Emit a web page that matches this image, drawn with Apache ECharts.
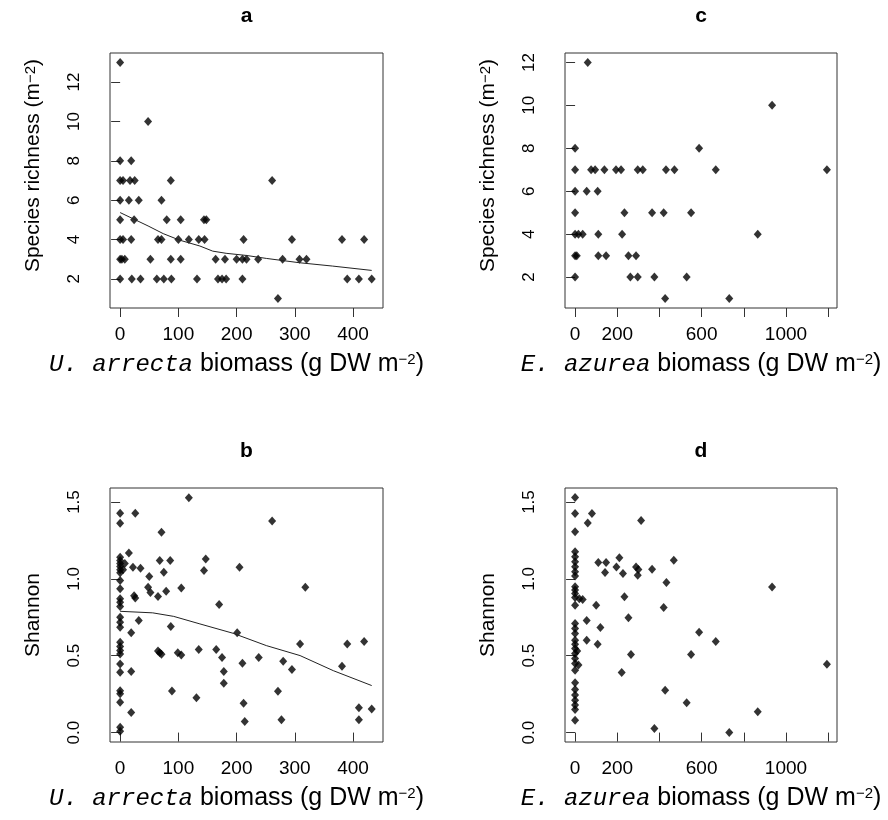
<!DOCTYPE html>
<html>
<head>
<meta charset="utf-8">
<script src="https://cdn.jsdelivr.net/npm/echarts@6/dist/echarts.min.js"></script>
<style>
  html, body { margin: 0; padding: 0; background: #fff; }
  #chart { width: 888px; height: 820px; }
</style>
</head>
<body>
<div id="chart"></div>
<script>
// Panel a: U. arrecta biomass (g DW m-2) vs species richness (m-2)
const arrectaRichness = [
  [0, 13], [48, 10], [0, 8], [19, 8],
  [0, 7], [5, 7], [17, 7], [25, 7], [87, 7], [261, 7],
  [0, 6], [15, 6], [32, 6], [71, 6],
  [0, 5], [24, 5], [80, 5], [104, 5], [144, 5], [148, 5],
  [0, 4], [5, 4], [19, 4], [65, 4], [71, 4], [100, 4], [118, 4], [135, 4], [145, 4],
  [212, 4], [295, 4], [381, 4], [419, 4],
  [0, 3], [3, 3], [8, 3], [52, 3], [87, 3], [104, 3], [164, 3], [180, 3], [200, 3],
  [210, 3], [217, 3], [237, 3], [279, 3], [308, 3], [320, 3],
  [0, 2], [20, 2], [35, 2], [63, 2], [75, 2], [88, 2], [132, 2], [168, 2], [175, 2],
  [182, 2], [210, 2], [390, 2], [410, 2], [432, 2],
  [271, 1]
];
// fitted curve for panel a
const arrectaRichnessFit = [
  [0, 5.37], [24, 5.03], [48, 4.69], [74, 4.30], [102, 3.97], [137, 3.67], [159, 3.41],
  [182, 3.30], [217, 3.19], [251, 3.04], [308, 2.82], [365, 2.65], [432, 2.43]
];

// Panel b: U. arrecta biomass vs Shannon diversity
const arrectaShannon = [
  [0, 1.427], [0, 1.362], [0, 1.141], [0, 1.12], [0, 1.10], [0, 1.08], [0, 1.06], [0, 1.04],
  [0, 0.989], [0, 0.935], [0, 0.870], [0, 0.848], [0, 0.820], [0, 0.750], [0, 0.718],
  [0, 0.685], [0, 0.588], [0, 0.560], [0, 0.534], [0, 0.512], [0, 0.447], [0, 0.392],
  [0, 0.273], [0, 0.252], [0, 0.197], [0, 0.035], [0, 0.008], [8, 1.10], [5, 1.06],
  [118, 1.527], [26, 1.427], [261, 1.377], [71, 1.303], [15, 1.169], [22, 1.076], [35, 1.069],
  [68, 1.12], [86, 1.12], [147, 1.13], [144, 1.054], [75, 1.043], [205, 1.076], [50, 1.015],
  [48, 0.945], [105, 0.941], [318, 0.945], [52, 0.912], [24, 0.89], [26, 0.875], [79, 0.92],
  [65, 0.885], [170, 0.833], [32, 0.729], [87, 0.690], [19, 0.650], [201, 0.649], [309, 0.577],
  [390, 0.577], [419, 0.592], [65, 0.53], [68, 0.52], [71, 0.51], [99, 0.52], [105, 0.505],
  [135, 0.540], [165, 0.540], [175, 0.488], [238, 0.488], [280, 0.464], [295, 0.410],
  [381, 0.431], [210, 0.451], [19, 0.397], [178, 0.397], [178, 0.321], [89, 0.27], [131, 0.226],
  [271, 0.269], [212, 0.191], [19, 0.130], [410, 0.161], [432, 0.154], [214, 0.072],
  [277, 0.083], [410, 0.083]
];
// fitted curve for panel b
const arrectaShannonFit = [
  [0, 0.789], [56, 0.779], [92, 0.756], [137, 0.707], [194, 0.646], [251, 0.566],
  [309, 0.501], [366, 0.403], [432, 0.306]
];

// Panel c: E. azurea biomass vs species richness
const azureaRichness = [
  [60, 12], [934, 10], [0, 8], [588, 8],
  [0, 7], [76, 7], [95, 7], [139, 7], [194, 7], [218, 7], [297, 7], [321, 7], [431, 7],
  [471, 7], [667, 7], [1194, 7],
  [0, 6], [55, 6], [107, 6],
  [0, 5], [234, 5], [365, 5], [420, 5], [550, 5],
  [0, 4], [16, 4], [36, 4], [110, 4], [223, 4], [866, 4],
  [0, 3], [8, 3], [110, 3], [147, 3], [253, 3], [289, 3],
  [0, 2], [262, 2], [297, 2], [376, 2], [529, 2],
  [427, 1], [731, 1]
];

// Panel d: E. azurea biomass vs Shannon diversity
const azureaShannon = [
  [0, 1.530], [0, 1.426], [0, 1.306], [0, 1.176], [0, 1.144], [0, 1.111], [0, 1.079],
  [0, 1.046], [0, 1.018], [0, 0.949], [0, 0.927], [0, 0.905], [0, 0.879], [0, 0.828],
  [0, 0.710], [0, 0.677], [0, 0.645], [0, 0.601], [0, 0.575], [0, 0.547], [0, 0.515],
  [0, 0.482], [0, 0.450], [0, 0.406], [0, 0.324], [0, 0.281], [0, 0.244], [0, 0.211],
  [0, 0.179], [0, 0.151], [0, 0.081], [20, 0.87], [16, 0.44], [10, 0.53],
  [80, 1.426], [313, 1.38], [60, 1.364], [110, 1.106], [147, 1.106], [210, 1.138],
  [196, 1.078], [142, 1.042], [227, 1.035], [289, 1.078], [300, 1.061], [297, 1.024],
  [365, 1.062], [468, 1.121], [433, 0.977], [934, 0.947], [36, 0.866], [100, 0.828],
  [234, 0.883], [420, 0.813], [55, 0.730], [253, 0.747], [120, 0.684], [588, 0.652],
  [55, 0.601], [667, 0.593], [107, 0.574], [265, 0.508], [550, 0.508], [1194, 0.445],
  [221, 0.391], [427, 0.276], [529, 0.194], [866, 0.135], [376, 0.027], [731, 0.0]
];

// tick positions and labels
const arrectaTicks = [0, 100, 200, 300, 400];
const azureaTicks = [0, 200, 400, 600, 800, 1000, 1200];
const azureaLabels = [0, 200, 600, 1000];
const richnessTicksA = [2, 4, 6, 8, 10, 12];
const richnessTicksC = [2, 4, 6, 8, 10, 12];
const shannonTicks = [0, 0.5, 1.0, 1.5];
const panelLetters = ['a', 'b', 'c', 'd'];

const FONT = '"Liberation Sans", Arial, Helvetica, sans-serif';
const INK = '#000';
const FRAME = '#333';

const richStyles = {
  i: { fontFamily: '"Liberation Mono", "DejaVu Sans Mono", monospace', fontStyle: 'italic', fontSize: 24, color: INK },
  sup: { fontFamily: FONT, fontSize: 15, verticalAlign: 'top', color: INK }
};

function xAxisDef(gridIndex, min, max, ticks, labels, species, shiftLeft) {
  return {
    type: 'value', gridIndex, min, max,
    splitLine: { show: false },
    axisLine: { show: false },
    axisTick: { show: true, customValues: ticks, length: 9, lineStyle: { color: FRAME, width: 1 } },
    axisLabel: {
      customValues: labels, margin: 17, fontSize: 19, fontFamily: FONT, color: INK,
      formatter: v => String(v)
    },
    name: '{i|' + species + '} biomass (g DW m{sup|−2})',
    nameLocation: 'middle', nameGap: 44,
    nameTextStyle: { fontFamily: FONT, fontSize: 25, color: INK, rich: richStyles, padding: [0, shiftLeft * 2, 0, 0] }
  };
}

function yAxisDef(gridIndex, min, max, ticks, fmt, title, shift) {
  return {
    type: 'value', gridIndex, min, max,
    splitLine: { show: false },
    axisLine: { show: false },
    axisTick: { show: true, customValues: ticks, length: 9, lineStyle: { color: FRAME, width: 1 } },
    axisLabel: {
      customValues: ticks, rotate: 90, margin: 27, fontSize: 17, fontFamily: FONT, color: INK,
      formatter: fmt
    },
    name: title, nameLocation: 'middle', nameRotate: 90, nameGap: 66,
    nameTextStyle: { fontFamily: FONT, fontSize: 21, color: INK, rich: richStyles, padding: [0, 0, 0, shift] }
  };
}

const gridBase = { show: true, borderColor: FRAME, borderWidth: 1, backgroundColor: 'transparent', containLabel: false, outerBoundsMode: 'none' };

const titlePos = [[246.5, 6], [246.5, 441], [701, 6], [701, 441]];

const scatterStyle = { symbol: 'diamond', symbolSize: [8, 9], itemStyle: { color: INK } };
const fitStyle = { showSymbol: false, symbol: 'none', lineStyle: { color: '#222', width: 1 }, z: 3 };

const option = {
  animation: false,
  backgroundColor: '#fff',
  title: panelLetters.map((t, i) => ({
    text: t, left: titlePos[i][0], top: titlePos[i][1], textAlign: 'center', padding: 0,
    textStyle: { fontFamily: FONT, fontSize: 21, fontWeight: 'bold', color: INK }
  })),
  grid: [
    Object.assign({ left: 110, top: 53, width: 273, height: 255 }, gridBase),
    Object.assign({ left: 110, top: 488, width: 273, height: 254 }, gridBase),
    Object.assign({ left: 565, top: 53, width: 272, height: 255 }, gridBase),
    Object.assign({ left: 565, top: 488, width: 272, height: 254 }, gridBase)
  ],
  xAxis: [
    xAxisDef(0, -17.4, 451.4, arrectaTicks, arrectaTicks, 'U. arrecta', 10),
    xAxisDef(1, -17.4, 451.4, arrectaTicks, arrectaTicks, 'U. arrecta', 10),
    xAxisDef(2, -47.8, 1241.8, azureaTicks, azureaLabels, 'E. azurea', 0),
    xAxisDef(3, -47.8, 1241.8, azureaTicks, azureaLabels, 'E. azurea', 0)
  ],
  yAxis: [
    yAxisDef(0, 0.52, 13.48, richnessTicksA, v => String(v), 'Species richness (m{sup|−2})', 30),
    yAxisDef(1, -0.0612, 1.5912, shannonTicks, v => v.toFixed(1), 'Shannon', 0),
    yAxisDef(2, 0.56, 12.44, richnessTicksC, v => String(v), 'Species richness (m{sup|−2})', 30),
    yAxisDef(3, -0.0612, 1.5912, shannonTicks, v => v.toFixed(1), 'Shannon', 0)
  ],
  series: [
    Object.assign({ type: 'scatter', xAxisIndex: 0, yAxisIndex: 0, data: arrectaRichness }, scatterStyle),
    Object.assign({ type: 'line', xAxisIndex: 0, yAxisIndex: 0, data: arrectaRichnessFit }, fitStyle),
    Object.assign({ type: 'scatter', xAxisIndex: 1, yAxisIndex: 1, data: arrectaShannon }, scatterStyle),
    Object.assign({ type: 'line', xAxisIndex: 1, yAxisIndex: 1, data: arrectaShannonFit }, fitStyle),
    Object.assign({ type: 'scatter', xAxisIndex: 2, yAxisIndex: 2, data: azureaRichness }, scatterStyle),
    Object.assign({ type: 'scatter', xAxisIndex: 3, yAxisIndex: 3, data: azureaShannon }, scatterStyle)
  ]
};

const chart = echarts.init(document.getElementById('chart'), null, { renderer: 'canvas' });
chart.setOption(option);
</script>
</body>
</html>
